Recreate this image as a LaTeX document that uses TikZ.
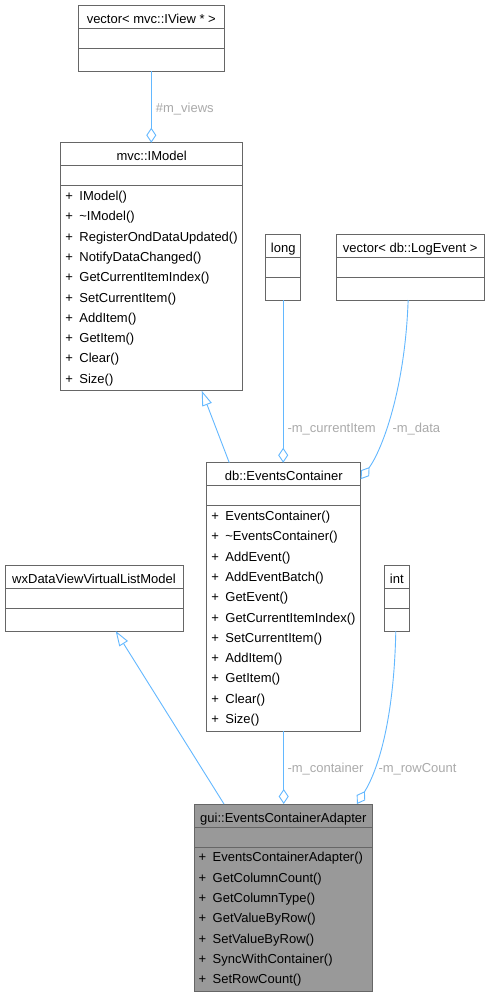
\documentclass[tikz,border=0pt]{standalone}
\usepackage{fontspec}
\setmainfont{Liberation Sans}
\usetikzlibrary{arrows.meta,calc}
\definecolor{edgeblue}{HTML}{63B8FF}
\definecolor{boxgray}{HTML}{666666}
\definecolor{labelgray}{HTML}{AAAAAA}
\definecolor{hlfill}{HTML}{999999}
\tikzset{
 classbox/.style={draw=boxgray, line width=1pt, inner sep=0pt, outer sep=0pt},
 sepline/.style={draw=boxgray, line width=1pt},
 txt/.style={font=\fontsize{13}{15}\selectfont, inner sep=0pt, text=black},
 elabel/.style={font=\fontsize{13}{15}\selectfont, inner sep=0pt, text=labelgray, anchor=base west},
 edgeline/.style={draw=edgeblue, line width=0.9pt},
 agg/.style={edgeline, -{Diamond[open, length=15pt, width=10pt, fill=white]}},
 inh/.style={edgeline, -{Triangle[open, length=15pt, width=10pt, fill=white]}},
}
\newcommand{\umlclass}[8][white]{%
  \pgfmathsetmacro{\boxh}{(#6>0) ? (45+20.3*#6) : 66}%
  \node[classbox, fill=#1, minimum width=#5pt, minimum height=\boxh pt, anchor=north west] (#2) at (#3,#4) {};
  \node[txt, anchor=base] at ($(#2.north)+(0,18)$) {#7};
  \draw[sepline] ($(#2.north west)+(0,23)$) -- ($(#2.north east)+(0,23)$);
  \draw[sepline] ($(#2.north west)+(0,43)$) -- ($(#2.north east)+(0,43)$);
  \ifnum#6>0
  \foreach \m [count=\i] in {#8} {
    \node[txt, anchor=base west] at ($(#2.north west)+(4.5,{57.8+20.3*(\i-1)})$) {+};
    \node[txt, anchor=base west] at ($(#2.north west)+(18.5,{57.8+20.3*(\i-1)})$) {\m};
  }
  \fi
}
\begin{document}
\begin{tikzpicture}[x=1pt,y=-1pt]
\fill[white] (0,0) rectangle (489,997);
\useasboundingbox (0,0) rectangle (489,997);

\umlclass{vecview}{78.3}{5}{146}{0}{vector< mvc::IView * >}{}
\umlclass{imodel}{60.7}{142.7}{182}{10}{mvc::IModel}{IModel(),\textasciitilde IModel(),RegisterOndDataUpdated(),NotifyDataChanged(),GetCurrentItemIndex(),SetCurrentItem(),AddItem(),GetItem(),Clear(),Size()}
\umlclass{long}{265.7}{234}{35}{0}{long}{}
\umlclass{veclog}{336}{234}{148.3}{0}{vector< db::LogEvent >}{}
\umlclass{evc}{206.7}{462.7}{154}{11}{db::EventsContainer}{EventsContainer(),\textasciitilde EventsContainer(),AddEvent(),AddEventBatch(),GetEvent(),GetCurrentItemIndex(),SetCurrentItem(),AddItem(),GetItem(),Clear(),Size()}
\umlclass{wx}{5}{565}{178}{0}{wxDataViewVirtualListModel}{}
\umlclass{int}{384.3}{565}{25}{0}{int}{}
\umlclass[hlfill]{adapter}{194}{804}{178.7}{7}{gui::EventsContainerAdapter}{EventsContainerAdapter(),GetColumnCount(),GetColumnType(),GetValueByRow(),SetValueByRow(),SyncWithContainer(),SetRowCount()}

% edges
\draw[agg] (vecview.south) -- (vecview.south |- imodel.north);
\node[elabel] (lviews) at (155.7,112) {\#m\_views};

\draw[agg] (long.south) -- (long.south |- evc.north);
\node[elabel] (lcur) at (287.3,432) {-m\_currentItem};

\draw[agg] ($(veclog.south)+(-2,0)$) .. controls (405,390) and (382,450) .. ($(evc.north east)+(0,16.5)$);
\node[elabel] (ldata) at (392.3,432) {-m\_data};

\draw[inh] ($(evc.north west)+(22.6,0)$) -- ($(imodel.south west)+(141,0)$);

\draw[agg] (evc.south) -- (evc.south |- adapter.north);
\node[elabel] (lcont) at (287.3,772) {-m\_container};

\draw[agg] ($(int.south)+(-1,0)$) .. controls (394,720) and (378,770) .. ($(adapter.north west)+(163,0)$);
\node[elabel] (lrow) at (378.3,772) {-m\_rowCount};

\draw[inh] ($(adapter.north west)+(30,0)$) -- ($(wx.south west)+(110.7,0)$);
\end{tikzpicture}
\end{document}
